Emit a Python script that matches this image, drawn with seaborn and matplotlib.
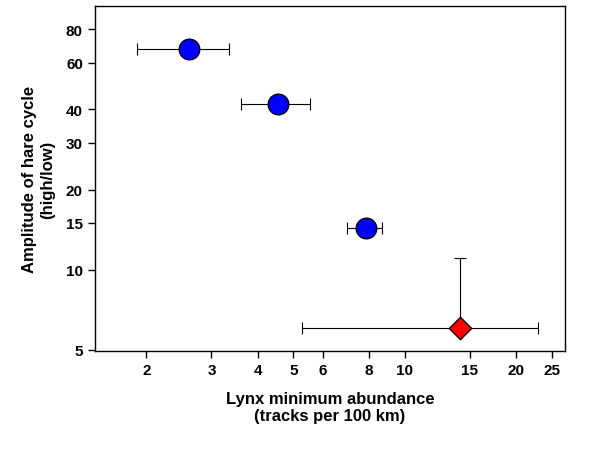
import numpy as np
import pandas as pd
import matplotlib
matplotlib.use("Agg")
import matplotlib.pyplot as plt
import seaborn as sns
from matplotlib.ticker import FixedLocator, NullLocator, FixedFormatter

lynx = [2.61, 4.55, 7.85, 14.1]
lynx_lo = [1.89, 3.6, 7.0, 5.28]
lynx_hi = [3.34, 5.53, 8.7, 22.9]
amplitude = [67.2, 42.1, 14.3, 6.05]
amp_lo = [67.2, 42.1, 14.3, 6.05]
amp_hi = [67.2, 42.1, 14.3, 11.1]
group = ["a", "a", "a", "b"]

df = pd.DataFrame({"lynx": lynx, "amp": amplitude, "group": group})

plt.rcParams["font.family"] = "Liberation Sans"
fig, ax = plt.subplots(figsize=(6, 4.52), dpi=100)
fig.subplots_adjust(left=0.158, right=0.942, top=0.985, bottom=0.221)

xerr = [np.array(lynx) - np.array(lynx_lo), np.array(lynx_hi) - np.array(lynx)]
yerr = [np.array(amplitude) - np.array(amp_lo), np.array(amp_hi) - np.array(amplitude)]
ax.errorbar(lynx, amplitude, xerr=xerr, yerr=yerr, fmt="none", ecolor="black",
            elinewidth=0.8, capsize=4, capthick=0.8, zorder=1)
sns.scatterplot(data=df[df.group == "a"], x="lynx", y="amp", marker="o",
                color="#0000ff", s=220, edgecolor="black", linewidth=1,
                legend=False, ax=ax, zorder=2)
sns.scatterplot(data=df[df.group == "b"], x="lynx", y="amp", marker="D",
                color="#ff0000", s=130, edgecolor="black", linewidth=1,
                legend=False, ax=ax, zorder=2)

ax.set_xscale("log")
ax.set_yscale("log")
ax.set_xlim(1.45, 27.2)
ax.set_ylim(4.95, 98)
xt = [2, 3, 4, 5, 6, 8, 10, 15, 20, 25]
yt = [5, 10, 15, 20, 30, 40, 60, 80]
ax.xaxis.set_major_locator(FixedLocator(xt))
ax.xaxis.set_major_formatter(FixedFormatter([str(v) for v in xt]))
ax.xaxis.set_minor_locator(NullLocator())
ax.yaxis.set_major_locator(FixedLocator(yt))
ax.yaxis.set_major_formatter(FixedFormatter([str(v) for v in yt]))
ax.yaxis.set_minor_locator(NullLocator())
ax.tick_params(labelsize=11, width=1, length=5)
for lab in ax.get_xticklabels() + ax.get_yticklabels():
    lab.set_fontweight("bold")
for s in ax.spines.values():
    s.set_linewidth(1)

ax.set_xlabel("Lynx minimum abundance\n(tracks per 100 km)", fontsize=12,
              fontweight="bold", labelpad=10)
ax.set_ylabel("Amplitude of hare cycle\n(high/low)", fontsize=12,
              fontweight="bold", labelpad=8)

fig.savefig("out.png", dpi=100)
